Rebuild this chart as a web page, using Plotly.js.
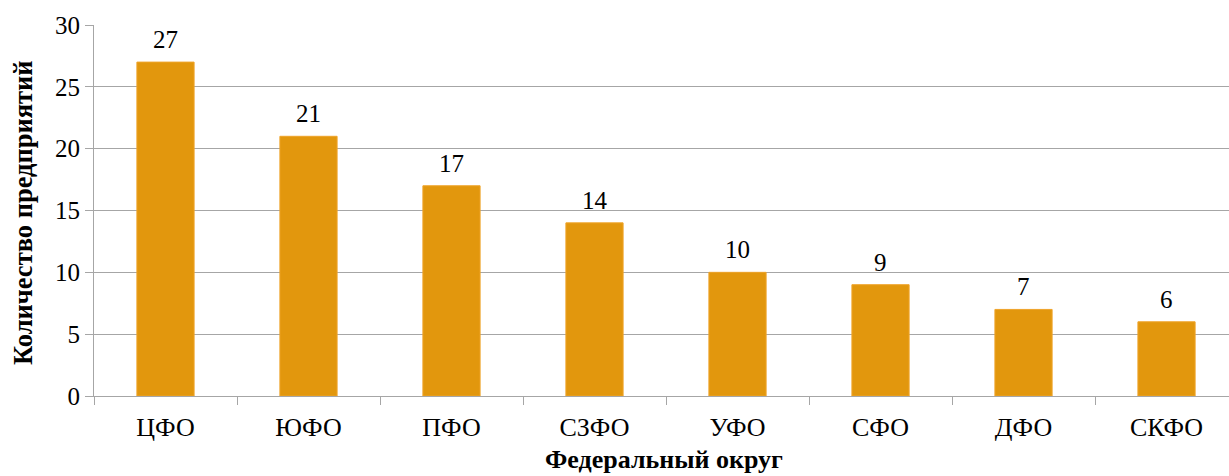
<!DOCTYPE html>
<html>
<head>
<meta charset="utf-8">
<script src="https://cdn.plot.ly/plotly-3.0.1.min.js"></script>
<style>html,body{margin:0;padding:0;background:#fff;}#chart{width:1229px;height:476px;}</style>
</head>
<body>
<div id="chart"></div>
<script>
const categories = ["ЦФО", "ЮФО", "ПФО", "СЗФО", "УФО", "СФО", "ДФО", "СКФО"];
const values = [27, 21, 17, 14, 10, 9, 7, 6];
const yTicks = [0, 5, 10, 15, 20, 25, 30];
const xTitle = "Федеральный округ";
const yTitle = "Количество предприятий";

const FONT = "Liberation Serif";

const trace = {
  type: "bar",
  x: categories,
  y: values,
  width: 0.4,
  marker: { color: "#E2970D", line: { color: "#EFA42A", width: 1 } },
  hoverinfo: "x+y"
};

const annotations = categories.map((c, i) => ({
  x: c, y: values[i], xref: "x", yref: "y",
  text: String(values[i]), showarrow: false,
  yanchor: "bottom", yshift: 7,
  font: { family: FONT, size: 25, color: "#000" }
}));

annotations.push({
  text: yTitle, showarrow: false,
  xref: "paper", yref: "paper", x: 0, y: 0.493,
  xanchor: "center", yanchor: "middle", xshift: -71,
  textangle: -90,
  font: { family: FONT, size: 26.5, color: "#000", weight: "bold" }
});

annotations.push({
  text: xTitle, showarrow: false,
  xref: "paper", yref: "paper", x: 0.502, y: 0,
  xanchor: "center", yanchor: "middle", yshift: -63,
  font: { family: FONT, size: 26, color: "#000", weight: "bold" }
});

const layout = {
  width: 1229, height: 476,
  margin: { l: 94, r: 0, t: 25, b: 80 },
  paper_bgcolor: "#fff", plot_bgcolor: "#fff",
  showlegend: false,
  font: { family: FONT, color: "#000" },
  bargap: 0.6,
  xaxis: {
    type: "category",
    range: [-0.5, 7.437],
    showline: true, linecolor: "#A6A6A6", linewidth: 1,
    ticks: "outside", tickson: "boundaries", ticklen: 8, tickcolor: "#A6A6A6", tickwidth: 1,
    showgrid: false,
    ticklabelstandoff: 8,
    tickfont: { family: FONT, size: 26, color: "#000" }
  },
  yaxis: {
    range: [0, 30],
    tickvals: yTicks,
    showline: true, linecolor: "#A6A6A6", linewidth: 1,
    ticks: "outside", ticklen: 8, tickcolor: "#A6A6A6", tickwidth: 1,
    showgrid: true, gridcolor: "#A6A6A6", gridwidth: 1,
    zeroline: false,
    ticklabelstandoff: 0,
    tickfont: { family: FONT, size: 25, color: "#000" }
  },
  annotations: annotations
};

Plotly.newPlot("chart", [trace], layout, { displayModeBar: false, staticPlot: true });
</script>
</body>
</html>
